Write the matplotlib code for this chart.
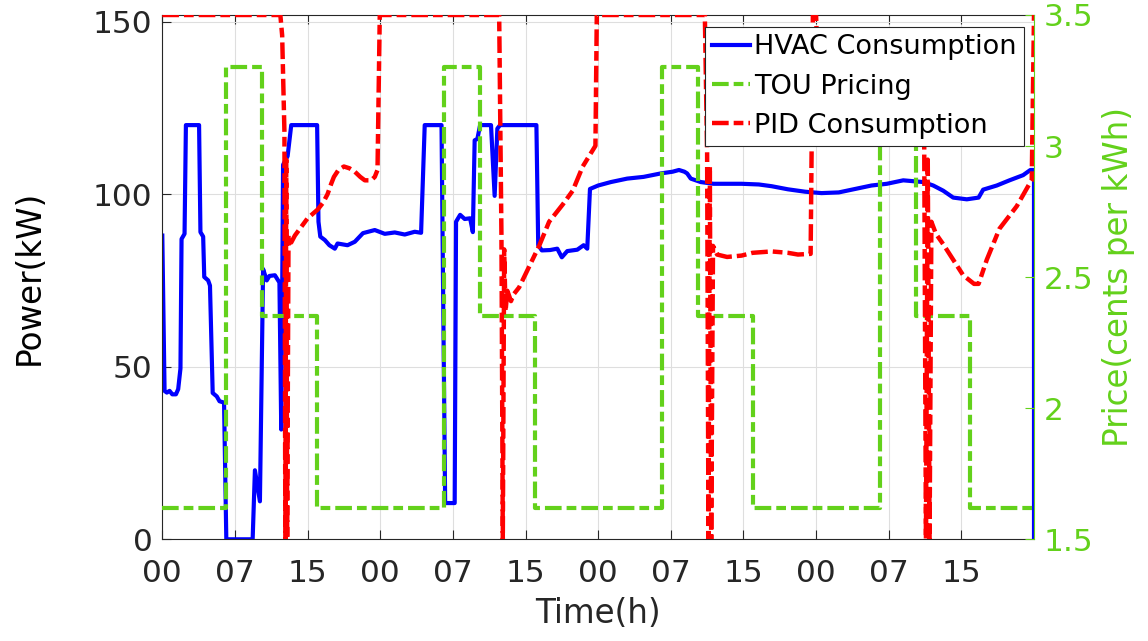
import matplotlib
matplotlib.use("Agg")
import matplotlib.pyplot as plt

plt.rcParams['font.family'] = ['DejaVu Sans']
plt.rcParams['lines.scale_dashes'] = False

# ---- data -------------------------------------------------------------
# HVAC consumption (kW) versus time (h)
hvac_t = [0, 0.25, 0.5, 0.8, 1.1, 1.5, 1.75, 2.0, 2.12, 2.45, 2.6, 4.05,
          4.2, 4.5, 4.62, 5.05, 5.25, 5.55, 6.0, 6.3, 6.8, 7.05, 9.95, 10.2,
          10.75, 11.1, 11.5, 11.8, 12.4, 12.9, 13.1, 13.3, 13.8, 14.2, 17.05,
          17.2, 17.4, 17.9, 18.4, 19.0, 19.3, 20.4, 21.2, 22.1, 23.4, 24.5,
          25.6, 26.7, 27.8, 28.5, 28.9, 30.75, 31.15, 32.2, 32.35, 32.8, 33.3,
          33.9, 34.2, 34.4, 34.7, 35.0, 36.2, 36.6, 36.9, 37.2, 41.2, 41.4,
          41.8, 42.7, 43.5, 44.0, 44.6, 45.7, 46.4, 46.8, 47.1, 48.0, 49.4,
          51.2, 53.0, 54.9, 56.2, 56.9, 57.5, 57.8, 58.2, 59.3, 60.7, 63.8,
          65.7, 67.1, 68.9, 70.8, 72.6, 74.5, 76.3, 78.1, 79.8, 81.6, 83.8,
          84.9, 86.0, 87.1, 88.6, 89.9, 90.4, 91.9, 93.3, 94.8, 95.6, 96.0,
          96.0]
hvac_kw = [88, 43, 42.5, 43, 42, 42, 43.5, 49.5, 87, 88.5, 120, 120,
           89, 87.7, 76, 75, 73.5, 42.4, 41.4, 40, 39.6, 0, 0, 20,
           11, 78.3, 75, 76.3, 76.5, 74.4, 31.8, 108.5, 111, 120, 120,
           92, 87.7, 86.7, 85.2, 84.2, 85.7, 85.2, 86.2, 88.7, 89.6, 88.5,
           88.9, 88.3, 89.1, 88.8, 120, 120, 10.5, 10.5, 92, 94, 92.8,
           93, 89, 115.6, 116, 120, 120, 99.5, 119, 120, 120, 85.2,
           83.7, 83.8, 84.2, 81.7, 83.5, 83.9, 85.2, 84.2, 101.5, 102.5, 103.5,
           104.5, 105, 106, 106.5, 107, 106.5, 106, 104.5, 103.5, 103, 103,
           102.8, 102.3, 101.4, 100.7, 100.3, 100.5, 101.5, 102.5, 103, 104, 103.5,
           102.5, 101, 99, 98.5, 99, 101.3, 102.5, 104, 105.5, 107, 107,
           0]

# PID consumption (kW) versus time (h); 151.9 kW is the saturation limit
pid_t = [0, 13.0, 13.2, 13.45, 13.55, 13.65, 13.75, 13.9, 14.2, 14.6, 15.3,
         16.0, 17.1, 17.7, 18.2, 18.6, 18.9, 19.4, 20.0, 20.6, 21.2, 21.8,
         22.3, 23.0, 23.4, 23.7, 23.95, 37.1, 37.35, 37.5, 37.65, 37.8, 38.0,
         38.4, 38.7, 39.3, 40.4, 41.5, 42.6, 44.1, 45.2, 46.3, 47.7, 47.85,
         59.75, 60.0, 60.15, 60.3, 60.45, 60.65, 61.1, 62.2, 63.8, 65.0, 67.1,
         68.9, 70.0, 71.4, 71.65, 72.0, 72.2, 83.7, 83.9, 84.1, 84.3, 84.5,
         84.7, 85.2, 86.0, 87.1, 88.2, 89.4, 89.9, 90.8, 92.2, 94.1, 95.5,
         95.75, 96.0]
pid_kw = [151.9, 151.9, 146, 118, 0, 110, 0, 88, 86, 88, 90.5,
          93, 95.5, 97.5, 100, 103, 105, 107, 108, 107.5, 106.5, 105,
          104, 104, 105, 107, 151.9, 151.9, 88, 0, 84, 66, 72,
          69, 71, 73, 79, 85, 92, 97, 101, 108, 114, 151.9,
          151.9, 112, 0, 108, 0, 85, 82.5, 81.8, 82.2, 83, 83.4,
          83, 82.5, 82.7, 151.9, 151.9, 135, 135, 120, 0, 110, 0,
          92, 88.5, 85.5, 81, 76.5, 74, 74, 81, 90, 96.5, 103,
          104, 151.9]

# Time-of-use tariff (cents per kWh): change points and the price from each
tou_t = [0, 7, 11, 17, 31, 35, 41, 55, 59, 65, 79, 83, 89, 96]
tou_price = [1.62, 3.30, 2.35, 1.62, 3.30, 2.35, 1.62, 3.30, 2.35, 1.62,
             3.30, 2.35, 1.62, 1.62]

tick_hours = [0, 8, 16, 24, 32, 40, 48, 56, 64, 72, 80, 88]
tick_labels = ['00', '07', '15', '00', '07', '15', '00', '07', '15',
               '00', '07', '15']

# ---- styling ------------------------------------------------------------
W, H = 1148, 641
GREEN = '#63D11B'
DARK = '#262626'
DASHDOT = (12, 3.6, 7, 3.6)

fig = plt.figure(figsize=(W / 100, H / 100), dpi=100)
left, right, top, bottom = 162.3, 1034, 15, 539.3
ax = fig.add_axes([left / W, (H - bottom) / H, (right - left) / W,
                   (bottom - top) / H])
ax2 = ax.twinx()

l_hvac, = ax.plot(hvac_t, hvac_kw, color='blue', lw=3.0,
                  solid_joinstyle='round', label='HVAC Consumption')
l_tou, = ax2.plot(tou_t, tou_price, color=GREEN, lw=3.0,
                  drawstyle='steps-post', dashes=DASHDOT,
                  dash_joinstyle='round', label='TOU Pricing')
l_pid, = ax2.plot(pid_t, pid_kw, color='red', lw=3.2, dashes=DASHDOT,
                  transform=ax.transData, label='PID Consumption')

ax.set_xlim(0, 96)
ax.set_ylim(0, 151.9)
ax2.set_ylim(1.5, 3.5)

ax.set_xticks(tick_hours)
ax.set_xticklabels(tick_labels)
ax.set_yticks([0, 50, 100, 150])
ax2.set_yticks([1.5, 2, 2.5, 3, 3.5])
ax2.set_yticklabels(['1.5', '2', '2.5', '3', '3.5'])

ax.grid(True, color='#dedede', lw=0.8)
ax.set_axisbelow(True)

ax.tick_params(axis='both', direction='in', length=6.5, width=0.8,
               colors=DARK, labelsize=22.5)
ax.tick_params(axis='x', top=True, pad=14)
ax.tick_params(axis='y', right=False, pad=7)
ax2.tick_params(axis='y', direction='in', length=6.5, width=0.8,
                colors=GREEN, labelsize=22.5, pad=7)

for s in ('left', 'top', 'bottom'):
    ax.spines[s].set_color(DARK)
    ax.spines[s].set_linewidth(0.8)
    ax2.spines[s].set_visible(False)
ax.spines['right'].set_visible(False)
ax2.spines['right'].set_color(GREEN)
ax2.spines['right'].set_linewidth(0.8)

ax.set_xlabel('Time(h)', fontsize=23.5, color=DARK, labelpad=7)
ax.set_ylabel('Power(kW)', fontsize=23.5, color='black', labelpad=34)
ax2.set_ylabel('Price(cents per kWh)', fontsize=23.5, color=GREEN,
               labelpad=6)

leg = ax2.legend(handles=[l_hvac, l_tou, l_pid], loc='upper right',
                 bbox_to_anchor=(1024 / W, 1 - 27 / H),
                 bbox_transform=fig.transFigure, borderaxespad=0,
                 fontsize=19.5, handlelength=1.4, handletextpad=0.15,
                 borderpad=0.27, labelspacing=0.49, fancybox=False,
                 framealpha=1, edgecolor=DARK)
leg.get_frame().set_linewidth(0.8)

fig.savefig('out.png', dpi=100)
